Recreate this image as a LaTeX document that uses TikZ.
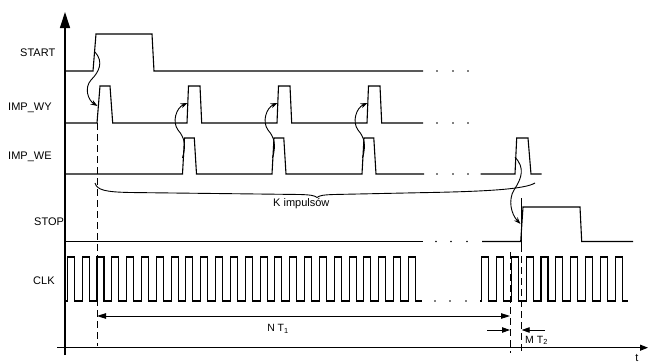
\documentclass[tikz,border=0pt]{standalone}
\usepackage{fontspec}
\setmainfont{Liberation Sans}
\usetikzlibrary{arrows.meta}
\begin{document}
\begin{tikzpicture}[x=1pt,y=-1pt,
  sig/.style={line width=1.1pt, line join=miter},
  axisline/.style={line width=1.2pt},
  lbl/.style={font=\fontsize{11}{13}\selectfont, inner sep=0pt, anchor=west},
  smalllbl/.style={font=\fontsize{10.5}{12}\selectfont, inner sep=0pt},
  dashline/.style={line width=1pt, dash pattern=on 7pt off 4pt},
  curvarrow/.style={line width=0.9pt, -{Stealth[length=7pt,width=5pt]}},
  dimarrow/.style={line width=0.9pt},
  dotmark/.style={fill=black, draw=none}]
\useasboundingbox (0,0) rectangle (649,364);

% axes
\coordinate (ybot) at (65,355);
\coordinate (ytop) at (65,12);
\coordinate (xleft) at (57,347.7);
\coordinate (xright) at (648,347.7);
\draw[axisline, -{Triangle[length=16pt,width=10pt]}] (ybot) -- (ytop);
\draw[axisline, -{Triangle[length=8pt,width=6pt]}] (xleft) -- (xright);
\node[lbl, anchor=center] (t) at (637,358) {t};

% labels
\node[lbl] (lstart) at (20,53) {START};
\node[lbl] (lwy) at (8,108) {IMP\_WY};
\node[lbl] (lwe) at (8,157) {IMP\_WE};
\node[lbl] (lstop) at (34,222) {STOP};
\node[lbl] (lclk) at (33,281) {CLK};

% START
\draw[sig] (65,71) -- (93,71) -- (96,34) -- (152,34) -- (154,71) -- (423,71);
% IMP_WY
\draw[sig] (65,123) -- (97,123) -- (100,86) -- (110,86) -- (112.7,123)
  \foreach \a in {187,277,367} { -- (\a,123) -- ({\a+1.5},86) -- ({\a+13},86) -- ({\a+14.7},123) }
  -- (423,123);
% IMP_WE
\draw[sig] (65,174)
  \foreach \b in {182.5,272,362} { -- (\b,174) -- ({\b+2},138) -- ({\b+11.8},138) -- ({\b+14},174) }
  -- (424,174);
\draw[sig] (480.7,174) -- (515,174) -- (516.7,138) -- (528,138) -- (531,174) -- (541.7,174);
% STOP
\draw[sig] (65,241.5) -- (423,241.5);
\draw[sig] (482,241.5) -- (520.7,241.5) -- (523,207) -- (580,207) -- (581.7,241.5) -- (633,241.5);
% CLK
\draw[sig] (65,301)
  \foreach \i in {0,...,23} { -- ({67.3+\i*14.83},301) -- ({67.3+\i*14.83},257) -- ({74.3+\i*14.83},257) -- ({74.3+\i*14.83},301) }
  -- (421.5,301);
\draw[sig] (480,301)
  \foreach \i in {0,...,9} { -- ({481.7+\i*14.83},301) -- ({481.7+\i*14.83},257) -- ({488.7+\i*14.83},257) -- ({488.7+\i*14.83},301) }
  -- (628,301);

% dots
\foreach \y/\xa/\xb/\xc in {71/437/453/468, 123/437/453/468, 174/437/453/468, 241.5/436/451/467, 301/435/450/466} {
  \fill[dotmark] (\xa,\y) circle (0.9pt);
  \fill[dotmark] (\xb,\y) circle (0.9pt);
  \fill[dotmark] (\xc,\y) circle (0.9pt);
}

% markers
\draw[line width=1pt] (521.7,198) -- (521.7,245);
\draw[dashline] (521.7,245) -- (521.7,353);
\draw[dashline] (510,252) -- (510,353);
\draw[dashline] (97,123) -- (97,346);

% curved arrows
\coordinate (c1s) at (95,52);
\coordinate (c1e) at (97.5,106);
\draw[curvarrow] (c1s) .. controls (104,62) and (99,72) .. (91,80) .. controls (84,88) and (88,100) .. (c1e);
\foreach \d in {0,90,180} {
  \draw[curvarrow] ({182.5+\d},158) .. controls ({186+\d},146) and ({185+\d},138) .. ({178+\d},130) .. controls ({172+\d},122) and ({176+\d},108) .. ({187.5+\d},103);
}
\coordinate (c4s) at (515,157);
\coordinate (c4e) at (520.5,224);
\draw[curvarrow] (c4s) .. controls (525,168) and (522,178) .. (514,190) .. controls (508,200) and (511,214) .. (c4e);

% brace
\draw[line width=0.9pt] (95,183) .. controls (97,190) and (105,192) .. (130,192.5) -- (300,194.5)
  .. controls (310,194.8) and (315,195.5) .. (317,197.5)
  .. controls (319,195.5) and (324,194.8) .. (334,194.5) -- (420,192.7)
  .. controls (490,191.5) and (525,189) .. (535,183);
\node[lbl] (kimp) at (273,203.5) {K impulsów};

% N T1
\coordinate (n1) at (97,316);
\coordinate (n2) at (510,316);
\draw[dimarrow, {Triangle[length=9pt,width=5.5pt]}-{Triangle[length=9pt,width=5.5pt]}] (n1) -- (n2);
\node[smalllbl] (nt) at (278,329) {N T\textsubscript{1}};

% M T2
\coordinate (m1) at (487,330);
\coordinate (m2) at (510,330);
\coordinate (m3) at (545,330);
\coordinate (m4) at (521.7,330);
\draw[dimarrow, -{Triangle[length=8pt,width=5.5pt]}] (m1) -- (m2);
\draw[dimarrow, -{Triangle[length=8pt,width=5.5pt]}] (m3) -- (m4);
\node[smalllbl, anchor=west] (mt) at (525,340.5) {M T\textsubscript{2}};
\end{tikzpicture}
\end{document}
